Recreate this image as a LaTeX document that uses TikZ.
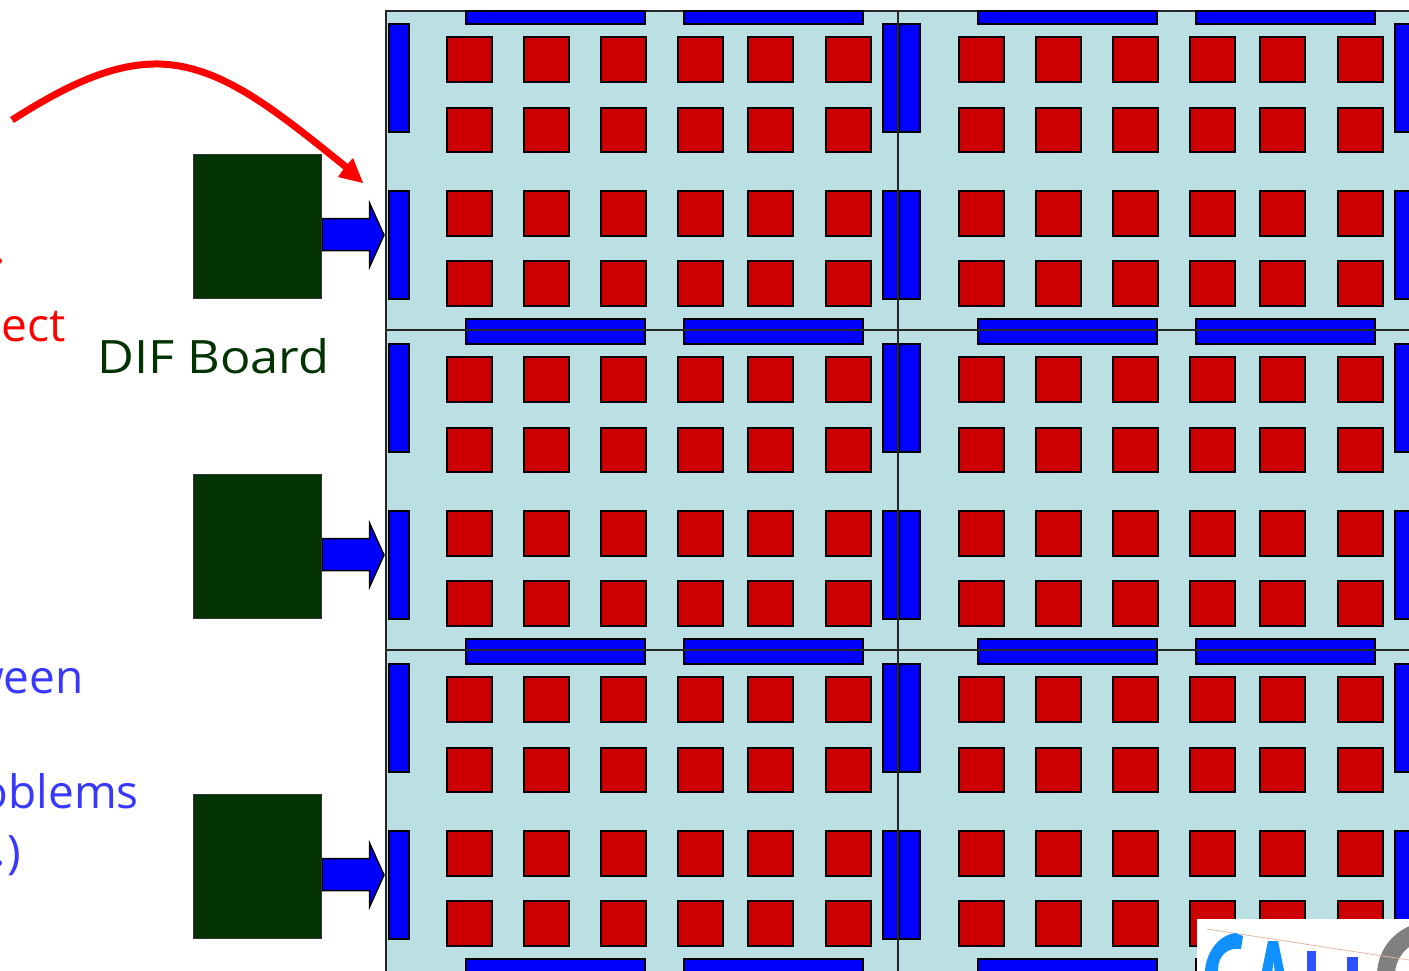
\documentclass[tikz,border=0pt]{standalone}
\usepackage{fontspec}
\setmainfont{Open Sans}
\definecolor{panelc}{HTML}{BBE0E3}
\definecolor{padc}{HTML}{CC0000}
\definecolor{barc}{HTML}{0000FF}
\definecolor{difc}{HTML}{033303}
\definecolor{noteb}{HTML}{3838FF}
\definecolor{logoa}{HTML}{1090FF}
\definecolor{logob}{HTML}{3050FF}
\definecolor{logol}{HTML}{DDB8A8}
\tikzset{
  padbox/.style={draw=black,line width=2pt,fill=padc},
  barbox/.style={draw=black,line width=2pt,fill=barc},
  difbox/.style={draw=black!80,line width=1.5pt,fill=difc},
  gridline/.style={draw=black!85,line width=1.5pt},
  lbl/.style={inner sep=0pt,font=\fontsize{46}{46}\selectfont},
}
\begin{document}
\begin{tikzpicture}[x=1pt,y=-1pt]
\useasboundingbox (0,0) rectangle (1409,970);
\clip (0,0) rectangle (1409,972);
\fill[white] (0,0) rectangle (1409,972);
% panel
\draw[fill=panelc,line width=1.8pt,draw=black!85] (386,11) rectangle (1420,985);
% horizontal bars
\foreach \x in {465.5,683.5,977.5,1195.5}{
  \draw[barbox] (\x,11) rectangle +(179.5,12.5);
  \draw[barbox] (\x,318.5) rectangle +(179.5,25);
  \draw[barbox] (\x,638.5) rectangle +(179.5,25);
  \draw[barbox] (\x,958.5) rectangle +(179.5,25);
}
% vertical bars
\foreach \o in {0,320,640}{
  \foreach \x/\w in {389/19.5,883/19,899/20.5,1395/19.5}{
    \draw[barbox] (\x,24+\o) rectangle +(\w,108);
    \draw[barbox] (\x,191+\o) rectangle +(\w,108);
  }
}
% pads
\foreach \o/\r in {0/a,320/b,640/c}{
  \foreach \y in {37,107.5,191,261}{
    \foreach \x in {446.5,523.5,600.5,677.5,747.5,825.5,958.5,1035.5,1112.5,1189.5,1259.5,1337.5}{
      \draw[padbox] (\x,\y+\o) rectangle +(45,44.5);
    }
  }
}
% grid lines
\draw[gridline] (898,11) -- (898,985);
\draw[gridline] (386,330) -- (1420,330);
\draw[gridline] (386,650) -- (1420,650);
% DIF boards and block arrows
\foreach \o/\n in {0/a,320/b,640/c}{
  \draw[barbox,line width=1.5pt,line join=miter] (322,218.5+\o) -- (369.5,218.5+\o) -- (369.5,203+\o) -- (384,235+\o) -- (369.5,267+\o) -- (369.5,250.5+\o) -- (322,250.5+\o) -- cycle;
  \node[difbox,draw,minimum width=128pt,minimum height=144pt,inner sep=0pt,outer sep=0pt,anchor=north west] (dif\n) at (193.5,154.5+\o) {};
}
% red arrow
\coordinate (rs) at (12,120);
\coordinate (re) at (346,167);
\draw[red,line width=7pt] (rs) .. controls (70,83) and (115,63) .. (160,64) .. controls (220,66) and (272,107) .. (re);
\fill[red] (363,183) -- (353,158) -- (345,167) -- (338,177) -- cycle;
% texts
\node[lbl,text=difc,anchor=base west] (diflabel) at (97,373) {\scalebox{1.1}[1]{DIF Board}};
\node[lbl,text=red,anchor=base east] (t1) at (66,341) {ect};
\node[lbl,text=noteb,anchor=base east] (t2) at (84,693) {ween};
\node[lbl,text=noteb,anchor=base east] (t3) at (139,808) {oblems};
\node[lbl,text=noteb,anchor=base east] (t4) at (21,868) {)};
\fill[red] (-1,261) circle (3);
\fill[noteb] (-1,863) circle (3);
% logo
\fill[white] (1197,919) rectangle (1409,975);
\fill[black!50,even odd rule] (1430,975) circle (53) (1430,975) circle (35);
\draw[logol,line width=.8pt] (1207,929) -- (1409,960);
\fill[logoa] (1205,975) -- (1205,970) .. controls (1207,950) and (1220,935) .. (1235,933) -- (1243,936) -- (1241,949) .. controls (1228,947) and (1218,955) .. (1218,970) -- (1218,975) -- cycle;
\fill[logoa] (1268,941) -- (1278,941) -- (1285,975) -- (1275,975) -- (1273.5,960) -- (1272,975) -- (1261,975) -- cycle;
\fill[logob] (1307,951) rectangle (1316,975);
\fill[logob] (1347,957) rectangle (1358,975);
\end{tikzpicture}
\end{document}
